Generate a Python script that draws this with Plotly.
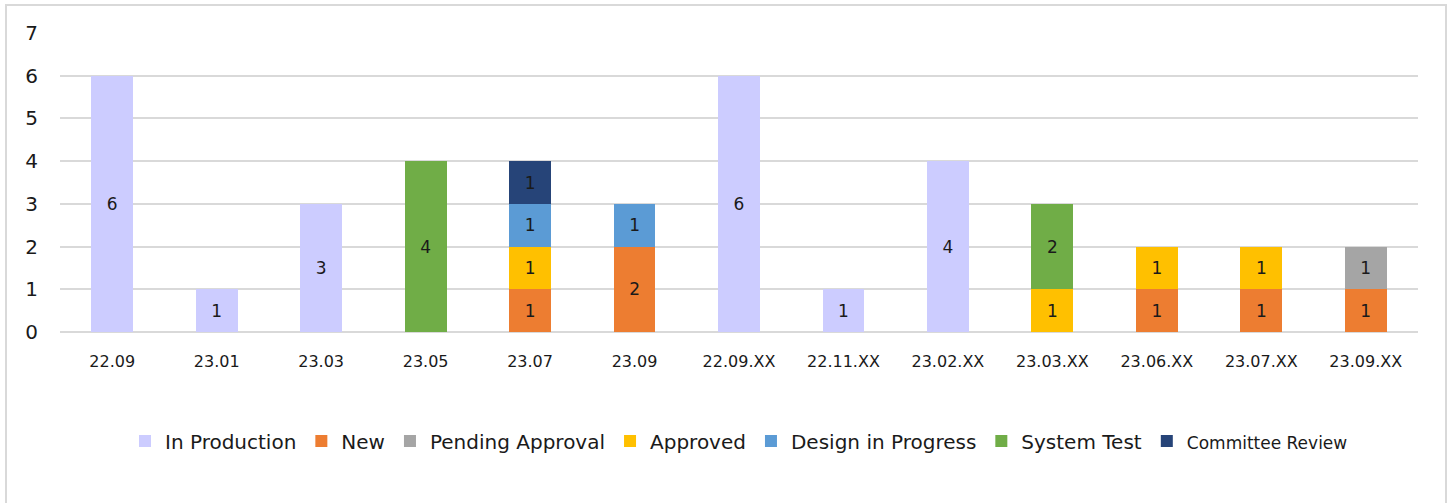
import plotly.graph_objects as go

# Release periods along the x-axis
categories = ["22.09", "23.01", "23.03", "23.05", "23.07", "23.09",
              "22.09.XX", "22.11.XX", "23.02.XX", "23.03.XX",
              "23.06.XX", "23.07.XX", "23.09.XX"]

# Item counts per status (None = no items in that period)
in_production      = [6, 1, 3, None, None, None, 6, 1, 4, None, None, None, None]
new                = [None, None, None, None, 1, 2, None, None, None, None, 1, 1, 1]
pending_approval   = [None, None, None, None, None, None, None, None, None, None, None, None, 1]
approved           = [None, None, None, None, 1, None, None, None, None, 1, 1, 1, None]
design_in_progress = [None, None, None, None, 1, 1, None, None, None, None, None, None, None]
system_test        = [None, None, None, 4, None, None, None, None, None, 2, None, None, None]
committee_review   = [None, None, None, None, 1, None, None, None, None, None, None, None, None]

y_ticks = [0, 1, 2, 3, 4, 5, 6, 7]

series = [
    ("In Production", in_production, "#CCCCFF"),
    ("New", new, "#ED7D31"),
    ("Pending Approval", pending_approval, "#A5A5A5"),
    ("Approved", approved, "#FFC000"),
    ("Design in Progress", design_in_progress, "#5B9BD5"),
    ("System Test", system_test, "#70AD47"),
    ('<span style="font-size:17px">Committee Review</span>', committee_review, "#264478"),
]

FONT = "DejaVu Sans"

fig = go.Figure()
for name, vals, color in series:
    fig.add_trace(go.Bar(
        name=name,
        x=categories,
        y=vals,
        marker=dict(color=color, line=dict(width=0)),
        texttemplate="%{y}",
        textposition="inside",
        insidetextanchor="middle",
        textangle=0,
        textfont=dict(family=FONT, size=17, color="#1a1a1a"),
        constraintext="none",
    ))

plot_w = 1450 - 60 - 32
plot_h = 503 - 33 - 171

fig.update_layout(
    barmode="stack",
    bargap=0.6,
    width=1450,
    height=503,
    margin=dict(l=60, r=32, t=33, b=171),
    paper_bgcolor="white",
    plot_bgcolor="white",
    font=dict(family=FONT, color="#1a1a1a"),
    xaxis=dict(
        type="category",
        showgrid=False,
        showline=False,
        ticks="",
        tickfont=dict(family=FONT, size=16, color="#1a1a1a"),
        ticklabelstandoff=18,
    ),
    yaxis=dict(
        range=[0, 7],
        tickvals=y_ticks,
        showgrid=True,
        gridcolor="#d9d9d9",
        gridwidth=1.5,
        zeroline=True,
        zerolinecolor="#d9d9d9",
        zerolinewidth=1.5,
        showline=False,
        ticks="",
        tickfont=dict(family=FONT, size=20, color="#1a1a1a"),
        ticklabelstandoff=21,
    ),
    legend=dict(
        orientation="h",
        x=0.5,
        xanchor="center",
        y=(332 - 441) / plot_h,
        yanchor="middle",
        font=dict(family=FONT, size=20, color="#1a1a1a"),
        itemwidth=30,
        tracegroupgap=0,
        traceorder="normal",
    ),
    showlegend=True,
)

# Outer frame around the chart
fig.add_shape(
    type="rect",
    xref="paper", yref="paper",
    x0=(6 - 60) / plot_w, x1=(1446 - 60) / plot_w,
    y0=(332 - 520) / plot_h, y1=(332 - 5) / plot_h,
    line=dict(color="#d9d9d9", width=2),
    fillcolor="rgba(0,0,0,0)",
    layer="below",
)

fig.write_html("out.html")
